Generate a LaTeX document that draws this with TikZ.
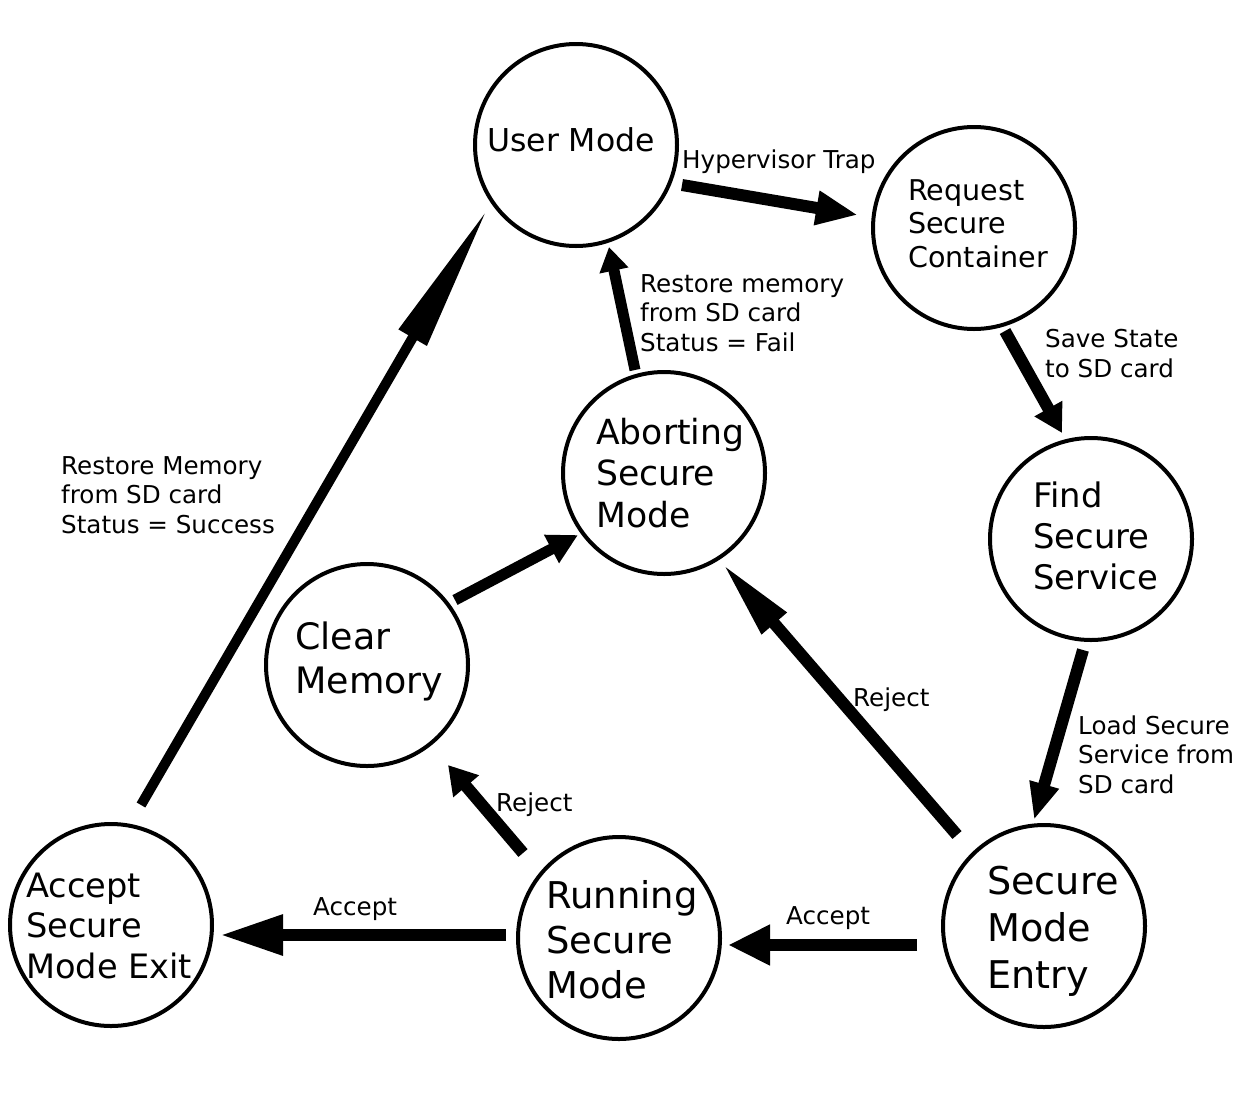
\documentclass[tikz,border=0pt]{standalone}
\usepackage{fontspec}
\setmainfont{DejaVu Sans}
\usetikzlibrary{arrows.meta,calc}
\tikzset{
  state/.style={circle, draw=black, line width=4pt, minimum size=202pt, inner sep=0pt},
  txt/.style={anchor=base west, inner sep=0pt, align=left},
  lbl/.style={txt, font=\fontsize{24.6}{29.5}\selectfont},
  arr/.style={line width=12pt, draw=black},
}
\begin{document}
\begin{tikzpicture}[x=1pt,y=-1pt]
\useasboundingbox[fill=white] (0,0) rectangle (1246,1098);

% states
\node[state] (user)  at (576,145) {};
\node[state] (req)   at (974,228) {};
\node[state] (find)  at (1091,539) {};
\node[state] (entry) at (1044,926) {};
\node[state] (run)   at (619,938) {};
\node[state] (exit)  at (111,925) {};
\node[state] (clear) at (367,665) {};
\node[state] (abort) at (664,473) {};

% state texts (anchored at the baseline of the last line)
\node[txt, font=\fontsize{31.5}{38}\selectfont] (tuser) at (487,151) {User Mode};
\node[txt, font=\fontsize{28.6}{33.5}\selectfont] (treq) at (908,267) {Request\\Secure\\Container};
\node[txt, font=\fontsize{34.6}{41.5}\selectfont] (tabort) at (596,527) {Aborting\\Secure\\Mode};
\node[txt, font=\fontsize{33.8}{41}\selectfont] (tfind) at (1033,589) {Find\\Secure\\Service};
\node[txt, font=\fontsize{36.4}{44}\selectfont] (tclear) at (295,693) {Clear\\Memory};
\node[txt, font=\fontsize{38.2}{47}\selectfont] (tentry) at (987,988) {Secure\\Mode\\Entry};
\node[txt, font=\fontsize{36.9}{45}\selectfont] (trun) at (546,998) {Running\\Secure\\Mode};
\node[txt, font=\fontsize{33.6}{40.5}\selectfont] (texit) at (26,978) {Accept\\Secure\\Mode Exit};

% connectors
\draw[arr, -{Triangle[length=42pt,width=32pt]}] ($(user)+(106,40)$) -- ($(req)+(-116,-13)$);
\draw[arr, -{Triangle[length=28pt,width=30pt]}] ($(req)+(31,103)$) -- ($(find)+(-29,-106)$);
\draw[arr, -{Triangle[length=37pt,width=28pt]}] ($(find)+(-8,111)$) -- ($(entry)+(-10,-106)$);
\draw[arr, -{Triangle[length=42pt,width=38pt]}] ($(entry)+(-127,19)$) -- ($(run)+(109,7)$);
\draw[arr, -{Triangle[length=63pt,width=38pt]}] ($(run)+(-113,-3)$) -- ($(exit)+(109,10)$);
\draw[arr, -{Triangle[length=80pt,width=30pt]}] ($(entry)+(-87,-91)$) -- ($(abort)+(58,90)$);
\draw[arr, -{Triangle[length=28pt,width=32pt]}] ($(run)+(-96,-85)$) -- ($(clear)+(81,100)$);
\draw[arr, line width=11pt, -{Triangle[length=30pt,width=30pt]}] ($(clear)+(88,-65)$) -- ($(abort)+(-86,62)$);
\draw[arr, line width=11pt, -{Triangle[length=24pt,width=28pt]}] ($(abort)+(-29,-103)$) -- ($(user)+(33,102)$);
\draw[arr, line width=10pt, -{Triangle[length=150pt,width=30pt]}] ($(exit)+(30,-120)$) -- ($(user)+(-88,63)$);

% labels (anchored at the baseline of the last line)
\node[lbl] (lhyp) at (682,168) {Hypervisor Trap};
\node[lbl] (lfail) at (640,351) {Restore memory\\from SD card\\Status = Fail};
\node[lbl] (lsave) at (1045,377) {Save State\\to SD card};
\node[lbl] (lload) at (1078,793) {Load Secure\\Service from\\SD card};
\node[lbl] (lrej1) at (853,706) {Reject};
\node[lbl] (lrej2) at (496,811) {Reject};
\node[lbl] (lacc1) at (786,924) {Accept};
\node[lbl] (lacc2) at (313,915) {Accept};
\node[lbl] (lsucc) at (61,533) {Restore Memory\\from SD card\\Status = Success};
\end{tikzpicture}
\end{document}
